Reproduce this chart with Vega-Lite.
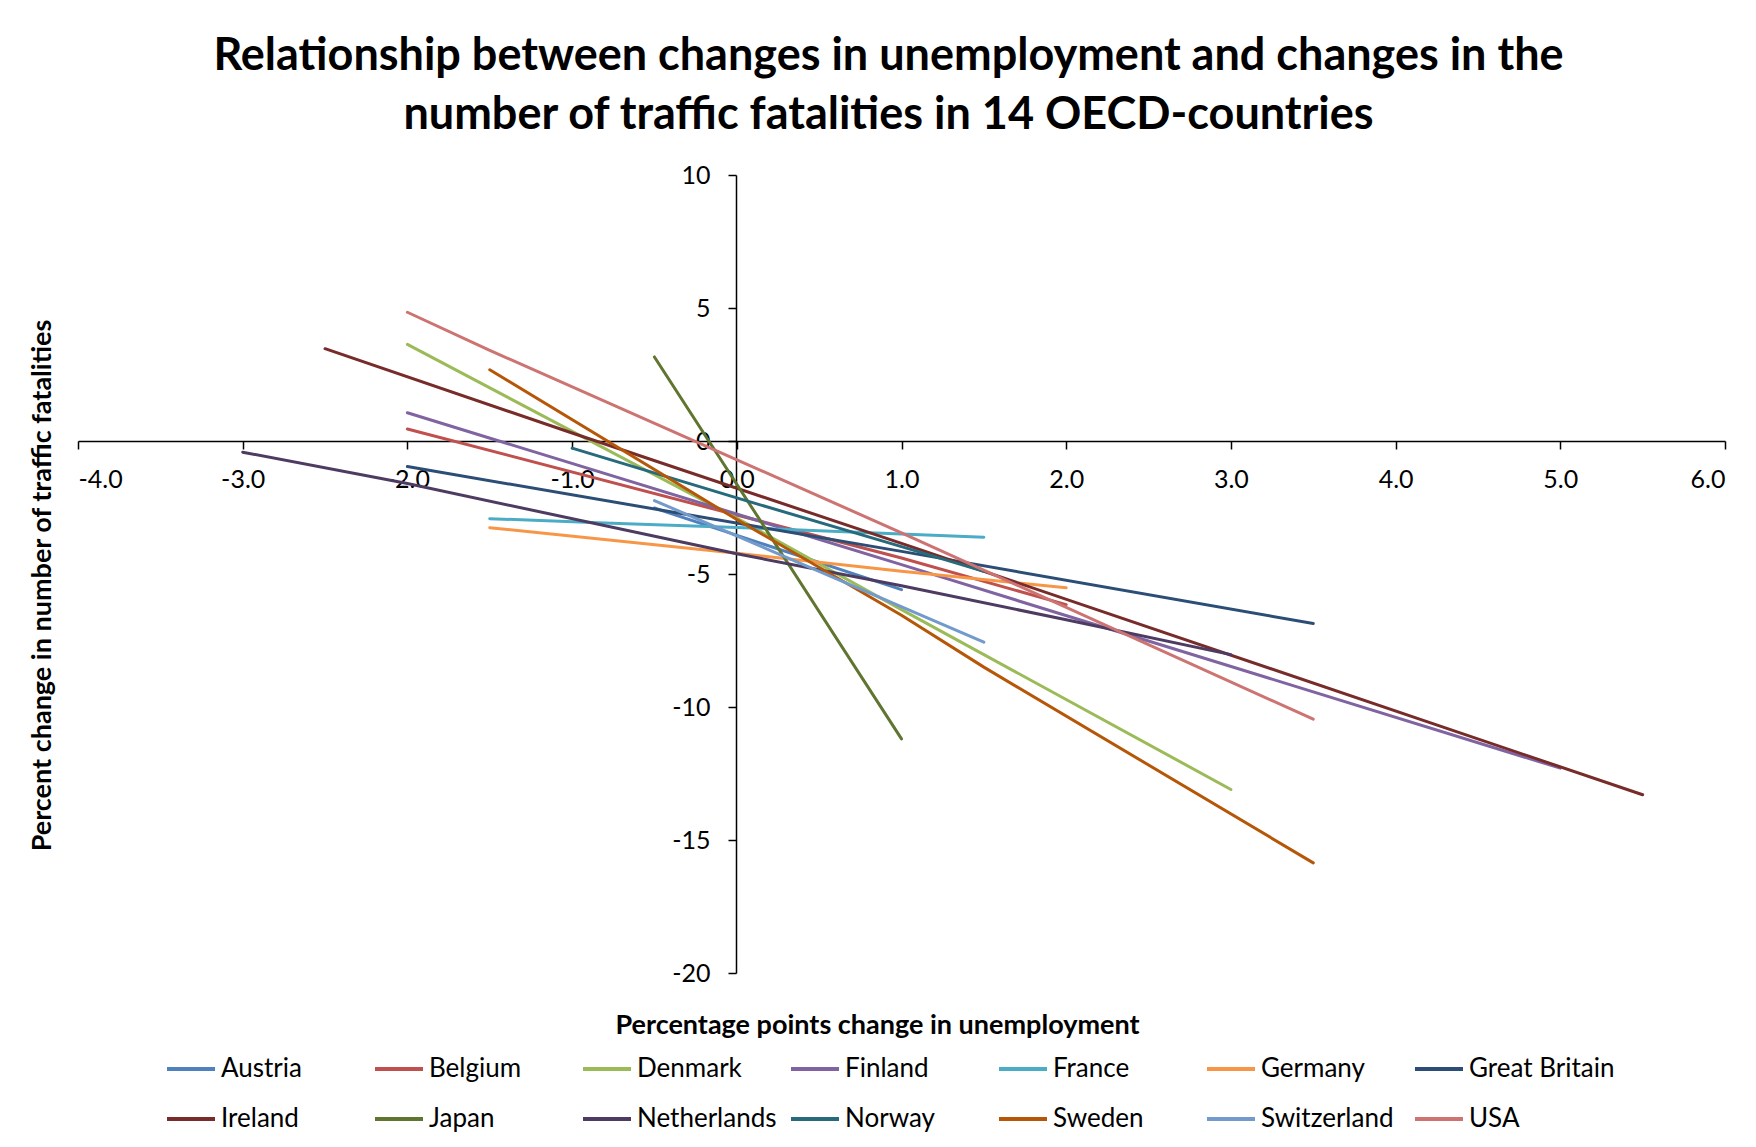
{
  "$schema": "https://vega.github.io/schema/vega-lite/v6.json",
  "autosize": {"type": "none"},
  "width": 1647,
  "height": 798,
  "padding": {"left": 78, "top": 175, "right": 31, "bottom": 174},
  "background": "white",
  "title": {
    "text": ["Relationship between changes in unemployment and changes in the", "number of traffic fatalities in 14 OECD-countries"],
    "font": "Lato",
    "fontSize": 45,
    "fontWeight": "bold",
    "color": "black",
    "lineHeight": 59,
    "anchor": "middle",
    "dx": -13,
    "offset": 25
  },
  "data": {
    "values": [
      {"country": "Austria", "x": -0.5, "y": -2.52},
      {"country": "Austria", "x": 1.0, "y": -5.59},
      {"country": "Belgium", "x": -2.0, "y": 0.45},
      {"country": "Belgium", "x": 1.0, "y": -4.4},
      {"country": "Belgium", "x": 2.0, "y": -6.15},
      {"country": "Denmark", "x": -2.0, "y": 3.63},
      {"country": "Denmark", "x": 0.0, "y": -2.9},
      {"country": "Denmark", "x": 1.0, "y": -6.34},
      {"country": "Denmark", "x": 3.0, "y": -13.1},
      {"country": "Finland", "x": -2.0, "y": 1.06},
      {"country": "Finland", "x": 1.0, "y": -4.65},
      {"country": "Finland", "x": 5.0, "y": -12.3},
      {"country": "France", "x": -1.5, "y": -2.92},
      {"country": "France", "x": -0.8, "y": -3.08},
      {"country": "France", "x": 0.0, "y": -3.25},
      {"country": "France", "x": 1.5, "y": -3.62},
      {"country": "Germany", "x": -1.5, "y": -3.26},
      {"country": "Germany", "x": 0.0, "y": -4.22},
      {"country": "Germany", "x": 1.0, "y": -4.9},
      {"country": "Germany", "x": 2.0, "y": -5.52},
      {"country": "Great Britain", "x": -2.0, "y": -0.96},
      {"country": "Great Britain", "x": 1.0, "y": -4.15},
      {"country": "Great Britain", "x": 3.5, "y": -6.86},
      {"country": "Ireland", "x": -2.5, "y": 3.47},
      {"country": "Ireland", "x": -1.0, "y": 0.3},
      {"country": "Ireland", "x": 1.0, "y": -3.85},
      {"country": "Ireland", "x": 5.5, "y": -13.3},
      {"country": "Japan", "x": -0.5, "y": 3.16},
      {"country": "Japan", "x": 1.0, "y": -11.2},
      {"country": "Netherlands", "x": -3.0, "y": -0.42},
      {"country": "Netherlands", "x": -2.0, "y": -1.6},
      {"country": "Netherlands", "x": 0.0, "y": -4.24},
      {"country": "Netherlands", "x": 1.0, "y": -5.44},
      {"country": "Netherlands", "x": 2.0, "y": -6.72},
      {"country": "Netherlands", "x": 3.0, "y": -8.03},
      {"country": "Norway", "x": -1.0, "y": -0.27},
      {"country": "Norway", "x": 0.0, "y": -2.14},
      {"country": "Norway", "x": 1.0, "y": -3.97},
      {"country": "Norway", "x": 1.5, "y": -4.9},
      {"country": "Sweden", "x": -1.5, "y": 2.68},
      {"country": "Sweden", "x": 0.0, "y": -2.95},
      {"country": "Sweden", "x": 1.0, "y": -6.55},
      {"country": "Sweden", "x": 1.5, "y": -8.5},
      {"country": "Sweden", "x": 3.5, "y": -15.86},
      {"country": "Switzerland", "x": -0.5, "y": -2.24},
      {"country": "Switzerland", "x": 1.5, "y": -7.56},
      {"country": "USA", "x": -2.0, "y": 4.84},
      {"country": "USA", "x": -1.5, "y": 3.41},
      {"country": "USA", "x": 1.0, "y": -3.45},
      {"country": "USA", "x": 3.5, "y": -10.46}
    ]
  },
  "mark": {"type": "line", "strokeWidth": 3, "strokeCap": "round"},
  "encoding": {
    "x": {
      "field": "x",
      "type": "quantitative",
      "scale": {"domain": [-4, 6], "nice": false, "zero": false},
      "axis": {
        "orient": "bottom",
        "offset": -532,
        "values": [-4, -3, -2, -1, 0, 1, 2, 3, 4, 5, 6],
        "labelExpr": "replace(format(datum.value, '.1f'), '\u2212', '-')",
        "grid": false,
        "title": "Percentage points change in unemployment",
        "titleX": 799,
        "titleY": 584,
        "titleBaseline": "middle",
        "titleAlign": "center",
        "titleAnchor": null
      }
    },
    "y": {
      "field": "y",
      "type": "quantitative",
      "scale": {"domain": [-20, 10], "nice": false, "zero": false},
      "axis": {
        "orient": "left",
        "offset": -658,
        "values": [-20, -15, -10, -5, 0, 5, 10],
        "labelExpr": "replace(format(datum.value, 'd'), '\u2212', '-')",
        "grid": false,
        "title": "Percent change in number of traffic fatalities",
        "titleX": -694,
        "titleY": 410,
        "titleAngle": 270,
        "titleBaseline": "middle",
        "titleAlign": "center",
        "titleAnchor": null
      }
    },
    "color": {
      "field": "country",
      "type": "nominal",
      "scale": {
        "domain": ["Austria", "Belgium", "Denmark", "Finland", "France", "Germany", "Great Britain", "Ireland", "Japan", "Netherlands", "Norway", "Sweden", "Switzerland", "USA"],
        "range": ["#4F81BD", "#C0504D", "#9BBB59", "#8064A2", "#4BACC6", "#F79646", "#2C4D75", "#772C2A", "#5F7530", "#4D3B62", "#276A7C", "#B65708", "#729ACA", "#CD7371"]
      },
      "legend": {
        "title": null,
        "orient": "none",
        "legendX": 87,
        "legendY": 868,
        "direction": "horizontal",
        "columns": 7,
        "gridAlign": "all",
        "columnPadding": 0,
        "rowPadding": 11,
        "symbolType": "stroke",
        "symbolStrokeWidth": 4,
        "symbolSize": 2304,
        "labelOffset": 4,
        "labelFont": "Lato",
        "labelFontSize": 26,
        "labelColor": "black",
        "labelLimit": 300
      }
    }
  },
  "config": {
    "view": {"stroke": null},
    "axis": {
      "domainColor": "black",
      "domainWidth": 1.5,
      "tickColor": "black",
      "tickWidth": 1.5,
      "tickSize": 8,
      "labelFont": "Lato",
      "labelFontSize": 25,
      "labelColor": "black",
      "labelPadding": 18,
      "titleFont": "Lato",
      "titleFontSize": 27,
      "titleFontWeight": "bold",
      "titleColor": "black"
    }
  }
}
